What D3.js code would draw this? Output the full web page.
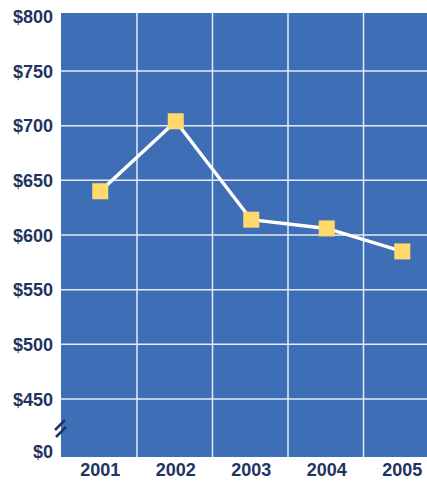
<!DOCTYPE html>
<html>
<head>
<meta charset="utf-8">
<script src="https://cdn.jsdelivr.net/npm/d3@7"></script>
<style>
  body { margin: 0; background: #fff; }
  svg text { font-family: "Liberation Sans", Arial, sans-serif; font-weight: bold; fill: #1f3461; }
</style>
</head>
<body>
<div id="chart"></div>
<script>
// data
var years = ['2001', '2002', '2003', '2004', '2005']
var prices = [640, 704, 614, 606, 585]
var yticks = [450, 500, 550, 600, 650, 700, 750, 800]
var ylabels = ['$450', '$500', '$550', '$600', '$650', '$700', '$750', '$800']
var breakLabel = '$0'

var w = 427, h = 482
var pleft = 61, ptop = 13, pbottom = 457

var svg = d3.select('#chart').append('svg')
    .attr('width', w)
    .attr('height', h)
    .style('display', 'block')

// scales
var x = d3.scaleBand()
    .domain(years)
    .range([62.5, 440])

var y = d3.scaleLinear()
    .domain([400, 800])
    .range([453.7, 16.3])

// plot background
svg.append('rect')
    .attr('x', pleft)
    .attr('y', ptop)
    .attr('width', w - pleft)
    .attr('height', pbottom - ptop)
    .attr('fill', '#3e6eb6')

// grid
svg.selectAll('.hgrid')
    .data(yticks.slice(0, -1))
    .enter().append('line')
    .attr('x1', pleft).attr('x2', w)
    .attr('y1', d => y(d)).attr('y2', d => y(d))
    .attr('stroke', '#e6ecf5')
    .attr('stroke-width', 1.5)

svg.selectAll('.vgrid')
    .data(years.slice(1))
    .enter().append('line')
    .attr('x1', d => x(d) - 1).attr('x2', d => x(d) - 1)
    .attr('y1', ptop).attr('y2', pbottom)
    .attr('stroke', '#e6ecf5')
    .attr('stroke-width', 1.5)

// y labels
svg.selectAll('.ylab')
    .data(yticks)
    .enter().append('text')
    .attr('x', 53)
    .attr('y', d => y(d) + 2)
    .attr('text-anchor', 'end')
    .attr('dominant-baseline', 'middle')
    .attr('font-size', 18)
    .text((d, i) => ylabels[i])

svg.append('text')
    .attr('x', 53)
    .attr('y', y(400))
    .attr('text-anchor', 'end')
    .attr('dominant-baseline', 'middle')
    .attr('font-size', 18)
    .text(breakLabel)

// axis break mark
svg.append('path')
    .attr('d', 'M55,430L65,420M56,437L66,427')
    .attr('stroke', '#1f3461')
    .attr('stroke-width', 2.5)

// x labels
svg.selectAll('.xlab')
    .data(years)
    .enter().append('text')
    .attr('x', d => x(d) + x.bandwidth() / 2)
    .attr('y', 471)
    .attr('text-anchor', 'middle')
    .attr('dominant-baseline', 'middle')
    .attr('font-size', 18)
    .text(d => d)

// line
var line = d3.line()
    .x((d, i) => x(years[i]) + x.bandwidth() / 2)
    .y(d => y(d))

svg.append('path')
    .datum(prices)
    .attr('d', line)
    .attr('fill', 'none')
    .attr('stroke', '#fff')
    .attr('stroke-width', 3.5)

// markers
svg.selectAll('.mark')
    .data(prices)
    .enter().append('rect')
    .attr('x', (d, i) => x(years[i]) + x.bandwidth() / 2 - 8)
    .attr('y', d => y(d) - 8)
    .attr('width', 16)
    .attr('height', 16)
    .attr('fill', '#ffd96b')
</script>
</body>
</html>
